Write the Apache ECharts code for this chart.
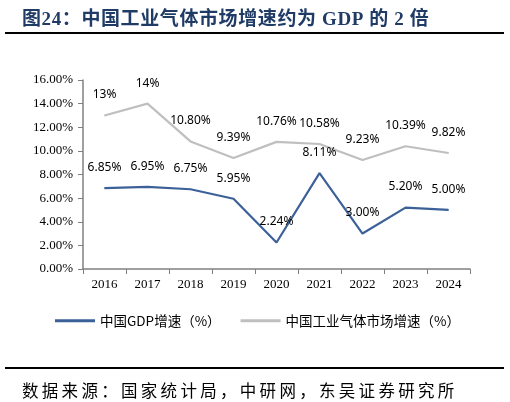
<!DOCTYPE html>
<html><head><meta charset="utf-8">
<script src="https://cdn.jsdelivr.net/npm/echarts@6/dist/echarts.min.js"></script>
<style>html,body{margin:0;padding:0;background:#fff}#c{width:510px;height:402px}</style>
</head><body><div id="c"></div>
<script>
var years = ['2016','2017','2018','2019','2020','2021','2022','2023','2024'];
var gdpGrowth = [6.85, 6.95, 6.75, 5.95, 2.24, 8.11, 3.00, 5.20, 5.00];
var gdpLabels = ['6.85%','6.95%','6.75%','5.95%','2.24%','8.11%','3.00%','5.20%','5.00%'];
var gasGrowth = [13, 14, 10.80, 9.39, 10.76, 10.58, 9.23, 10.39, 9.82];
var gasLabels = ['13%','14%','10.80%','9.39%','10.76%','10.58%','9.23%','10.39%','9.82%'];
var seriesNames = ['中国GDP增速（%）','中国工业气体市场增速（%）'];
var titleText = '图24：中国工业气体市场增速约为 GDP 的 2 倍';
var sourceText = '数据来源：国家统计局，中研网，东吴证券研究所';

// letter-spaced rich text helper
var mctx = document.createElement('canvas').getContext('2d');
function spaced(str, family, size, weight, color, spacing){
  mctx.font = weight + ' ' + size + 'px ' + family;
  var rich = {}, out = '';
  Array.from(str).forEach(function(ch){
    var w = Math.round((mctx.measureText(ch).width + spacing) * 10) / 10;
    var key = 'w' + String(w).replace('.', '_');
    if (!rich[key]) rich[key] = {width:w, fontFamily:family, fontSize:size, fontWeight:weight, color:color, align:'left'};
    out += '{' + key + '|' + ch + '}';
  });
  return {text:out, rich:rich};
}
var titleFam = '"Liberation Serif", "Noto Sans CJK SC"';
var t1 = spaced(titleText, titleFam, 19, 'bold', '#1F3B66', 0.6);
var t2 = spaced(sourceText, '"Noto Sans CJK SC"', 16.5, 'normal', '#000', 3.3);

var chart = echarts.init(document.getElementById('c'));
function mk(vals, labels){ return vals.map(function(v,i){ return {value:v, label:{formatter:labels[i]}}; }); }
var labelStyle = {show:true, position:'top', distance:14, fontFamily:'Noto Sans', fontSize:12, color:'#000'};
chart.setOption({
  animation:false,
  title:[
    {text:t1.text, left:17, top:6, textStyle:{rich:t1.rich, fontSize:19}},
    {text:t2.text, left:17, top:377, textStyle:{rich:t2.rich, fontSize:16.5}}
  ],
  graphic:[
    {type:'rect', shape:{x:5,y:32,width:499,height:2}, style:{fill:'#000'}},
    {type:'rect', shape:{x:5,y:367,width:499,height:2}, style:{fill:'#000'}}
  ],
  legend:{left:50, top:309, itemWidth:40, itemHeight:3, itemGap:20, icon:'rect',
    textStyle:{fontFamily:'Noto Sans CJK SC', fontSize:13.5, color:'#000'}, data:seriesNames},
  grid:{left:83, right:40, top:80, bottom:133},
  xAxis:{type:'category', data:years, boundaryGap:true,
    axisLine:{lineStyle:{color:'#808080', width:1.5}},
    axisTick:{show:true, length:5, lineStyle:{color:'#808080'}},
    axisLabel:{fontFamily:'Liberation Serif', fontSize:13, color:'#000', margin:9}},
  yAxis:{type:'value', min:0, max:16, interval:2,
    axisLine:{show:true, lineStyle:{color:'#808080', width:1.5}},
    axisTick:{show:true, length:5, lineStyle:{color:'#808080'}},
    splitLine:{show:false},
    axisLabel:{fontFamily:'Liberation Serif', fontSize:13, color:'#000', margin:10,
      formatter:function(v){return v.toFixed(2)+'%';}}},
  series:[
    {name:seriesNames[0], type:'line', data:mk(gdpGrowth,gdpLabels), symbol:'circle', symbolSize:1,
     lineStyle:{color:'#3C6198', width:2.2}, itemStyle:{color:'#3C6198'}, label:labelStyle},
    {name:seriesNames[1], type:'line', data:mk(gasGrowth,gasLabels), symbol:'circle', symbolSize:1,
     lineStyle:{color:'#BFBFBF', width:2.2}, itemStyle:{color:'#BFBFBF'}, label:labelStyle}
  ]
});
</script></body></html>
